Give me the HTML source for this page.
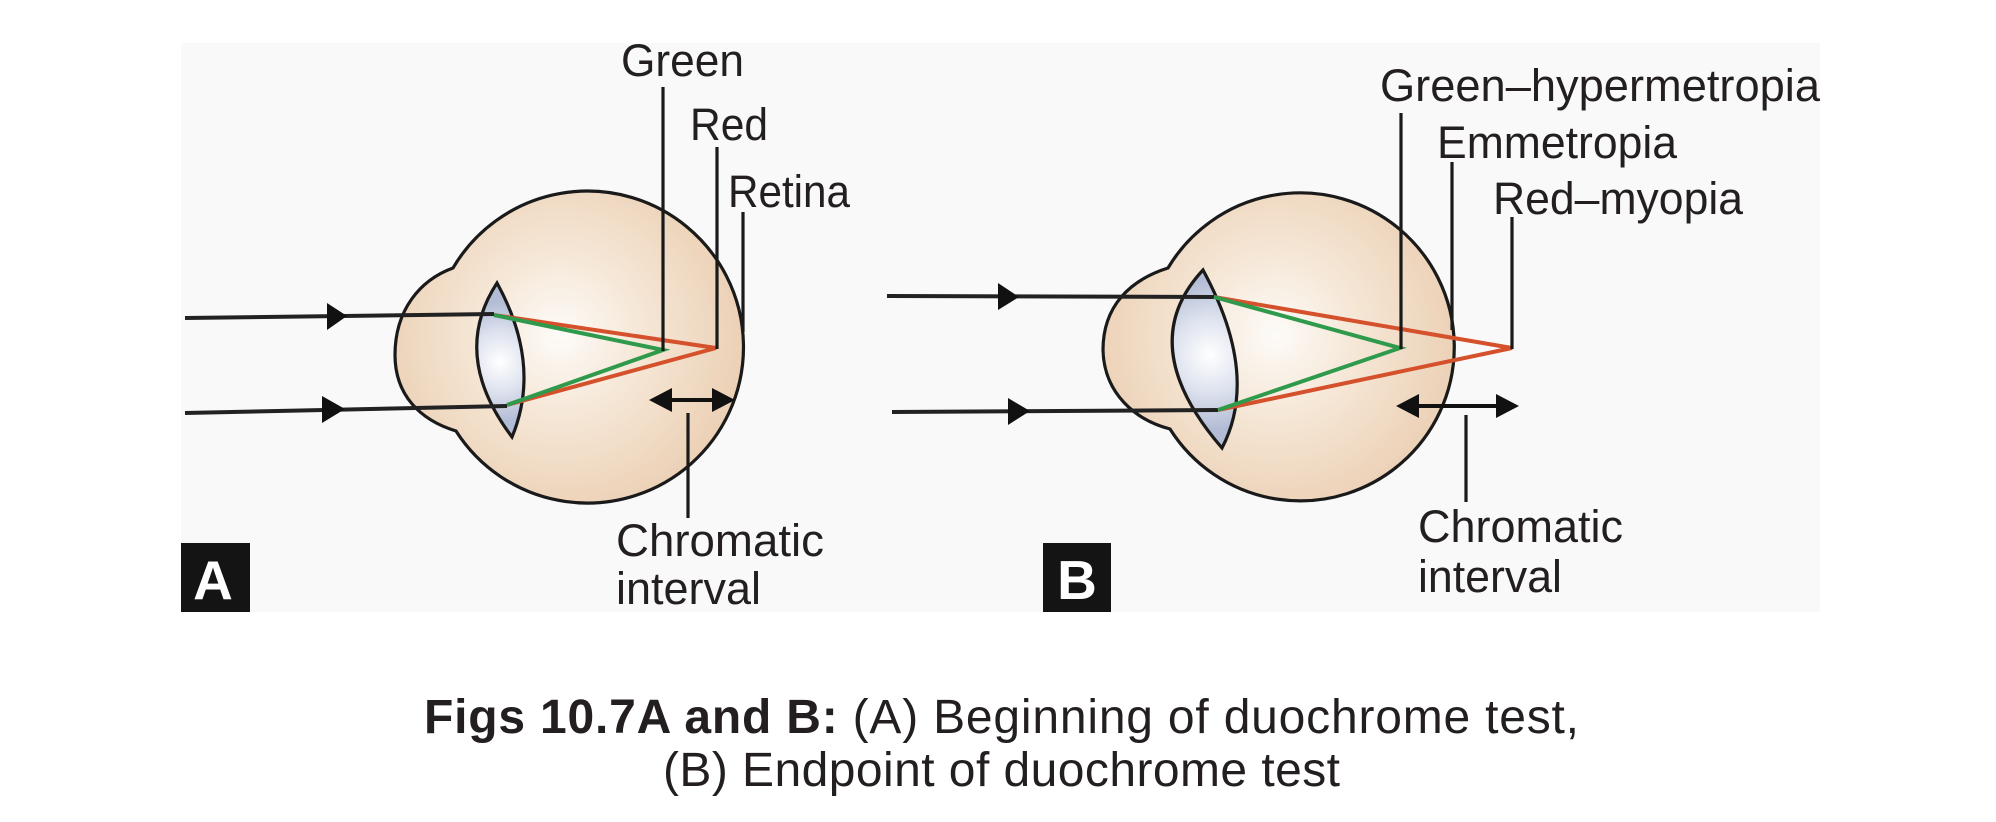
<!DOCTYPE html>
<html>
<head>
<meta charset="utf-8">
<style>
  html, body { margin: 0; padding: 0; background: #ffffff; }
  svg { display: block; }
  .lbl { font-family: "Liberation Sans", Arial, sans-serif; font-size: 45px; fill: #231f20; }
  .cap { font-family: "Liberation Sans", Arial, sans-serif; font-size: 48px; fill: #231f20; }
  .box { font-family: "Liberation Sans", Arial, sans-serif; font-size: 55px; font-weight: bold; fill: #ffffff; }
</style>
</head>
<body>
<svg width="1996" height="822" viewBox="0 0 1996 822" xmlns="http://www.w3.org/2000/svg">
  <defs>
    <radialGradient id="eyeA" cx="560" cy="335" r="190" gradientUnits="userSpaceOnUse">
      <stop offset="0" stop-color="#fdfbf8"/>
      <stop offset="0.45" stop-color="#f5e6d5"/>
      <stop offset="1" stop-color="#ebcfb3"/>
    </radialGradient>
    <radialGradient id="eyeB" cx="1275" cy="335" r="190" gradientUnits="userSpaceOnUse">
      <stop offset="0" stop-color="#fdfbf8"/>
      <stop offset="0.45" stop-color="#f5e6d5"/>
      <stop offset="1" stop-color="#ebcfb3"/>
    </radialGradient>
    <radialGradient id="lensA" cx="500" cy="362" r="60" gradientUnits="userSpaceOnUse">
      <stop offset="0" stop-color="#ffffff"/>
      <stop offset="0.5" stop-color="#dde2ee"/>
      <stop offset="1" stop-color="#b3bcd5"/>
    </radialGradient>
    <radialGradient id="lensB" cx="1210" cy="355" r="75" gradientUnits="userSpaceOnUse">
      <stop offset="0" stop-color="#ffffff"/>
      <stop offset="0.5" stop-color="#dde2ee"/>
      <stop offset="1" stop-color="#b3bcd5"/>
    </radialGradient>
  </defs>

  <!-- panel background -->
  <rect x="181" y="43" width="1639" height="569" fill="#f9f9f9"/>

  <!-- ================= EYE A ================= -->
  <path d="M 453 268 A 156 156 0 1 1 456 431 C 420 420 395 395 395 355 C 395 310 420 280 453 268 Z"
        fill="url(#eyeA)" stroke="#1a1a1a" stroke-width="3.2"/>
  <path d="M 497 283 Q 450 355 512 437 Q 542 365 497 283 Z"
        fill="url(#lensA)" stroke="#1a1a1a" stroke-width="3.2"/>

  <!-- incoming rays A -->
  <line x1="185" y1="318" x2="494" y2="314" stroke="#222" stroke-width="4"/>
  <polygon points="347,316 327,303 327,330" fill="#111"/>
  <line x1="185" y1="413" x2="507" y2="406" stroke="#222" stroke-width="4"/>
  <polygon points="345,409 322,396 322,423" fill="#111"/>

  <!-- refracted rays A -->
  <polyline points="494,315 716,348 507,405" fill="none" stroke="#d4512c" stroke-width="4" stroke-linejoin="miter"/>
  <polyline points="494,315 663,350 507,405" fill="none" stroke="#2f9a4c" stroke-width="4" stroke-linejoin="miter"/>

  <!-- label lines A -->
  <line x1="663" y1="87" x2="663" y2="351" stroke="#1a1a1a" stroke-width="3.2"/>
  <line x1="717" y1="147" x2="717" y2="349" stroke="#1a1a1a" stroke-width="3.2"/>
  <line x1="743" y1="212" x2="743" y2="332" stroke="#1a1a1a" stroke-width="3.2"/>

  <!-- chromatic interval A -->
  <line x1="660" y1="400" x2="724" y2="400" stroke="#111" stroke-width="4"/>
  <polygon points="649,400 672,388 672,412" fill="#111"/>
  <polygon points="735,400 712,388 712,412" fill="#111"/>
  <line x1="688" y1="413" x2="688" y2="518" stroke="#1a1a1a" stroke-width="3.2"/>

  <text class="lbl" x="621" y="76" textLength="123" lengthAdjust="spacingAndGlyphs">Green</text>
  <text class="lbl" x="690" y="140" textLength="78" lengthAdjust="spacingAndGlyphs">Red</text>
  <text class="lbl" x="728" y="207" textLength="122" lengthAdjust="spacingAndGlyphs">Retina</text>
  <text class="lbl" x="616" y="556" textLength="208" lengthAdjust="spacingAndGlyphs">Chromatic</text>
  <text class="lbl" x="616" y="604" textLength="145" lengthAdjust="spacingAndGlyphs">interval</text>

  <rect x="181" y="543" width="69" height="69" fill="#141414"/>
  <text class="box" x="213" y="599" text-anchor="middle">A</text>

  <!-- ================= EYE B ================= -->
  <path d="M 1168 268 A 154 154 0 1 1 1170 429 C 1135 420 1104 393 1103 350 C 1103 306 1130 280 1168 268 Z"
        fill="url(#eyeB)" stroke="#1a1a1a" stroke-width="3.2"/>
  <path d="M 1203 270 Q 1133 345 1222 448 Q 1260 375 1203 270 Z"
        fill="url(#lensB)" stroke="#1a1a1a" stroke-width="3.2"/>

  <!-- incoming rays B -->
  <line x1="887" y1="296" x2="1214" y2="297" stroke="#222" stroke-width="4"/>
  <polygon points="1019,297 998,283 998,310" fill="#111"/>
  <line x1="892" y1="412" x2="1218" y2="410" stroke="#222" stroke-width="4"/>
  <polygon points="1030,411 1008,398 1008,425" fill="#111"/>

  <!-- refracted rays B -->
  <polyline points="1214,297 1512,348 1218,410" fill="none" stroke="#d4512c" stroke-width="4"/>
  <polyline points="1214,297 1400,348 1218,410" fill="none" stroke="#2f9a4c" stroke-width="4"/>

  <!-- label lines B -->
  <line x1="1401" y1="113" x2="1401" y2="349" stroke="#1a1a1a" stroke-width="3.2"/>
  <line x1="1452" y1="162" x2="1452" y2="330" stroke="#1a1a1a" stroke-width="3.2"/>
  <line x1="1512" y1="217" x2="1512" y2="349" stroke="#1a1a1a" stroke-width="3.2"/>

  <!-- chromatic interval B -->
  <line x1="1407" y1="406" x2="1508" y2="406" stroke="#111" stroke-width="4"/>
  <polygon points="1396,406 1419,394 1419,418" fill="#111"/>
  <polygon points="1519,406 1496,394 1496,418" fill="#111"/>
  <line x1="1466" y1="415" x2="1466" y2="502" stroke="#1a1a1a" stroke-width="3.2"/>

  <text class="lbl" x="1380" y="101" textLength="440" lengthAdjust="spacingAndGlyphs">Green–hypermetropia</text>
  <text class="lbl" x="1437" y="158" textLength="240" lengthAdjust="spacingAndGlyphs">Emmetropia</text>
  <text class="lbl" x="1493" y="214" textLength="250" lengthAdjust="spacingAndGlyphs">Red–myopia</text>
  <text class="lbl" x="1418" y="542" textLength="205" lengthAdjust="spacingAndGlyphs">Chromatic</text>
  <text class="lbl" x="1418" y="592" textLength="144" lengthAdjust="spacingAndGlyphs">interval</text>

  <rect x="1043" y="543" width="68" height="69" fill="#141414"/>
  <text class="box" x="1077" y="599" text-anchor="middle">B</text>

  <!-- ================= CAPTION ================= -->
  <text class="cap" x="424" y="733" textLength="1155" lengthAdjust="spacing"><tspan font-weight="bold">Figs 10.7A and B:</tspan> (A) Beginning of duochrome test,</text>
  <text class="cap" x="663" y="786" textLength="677" lengthAdjust="spacing">(B) Endpoint of duochrome test</text>
</svg>
</body>
</html>
